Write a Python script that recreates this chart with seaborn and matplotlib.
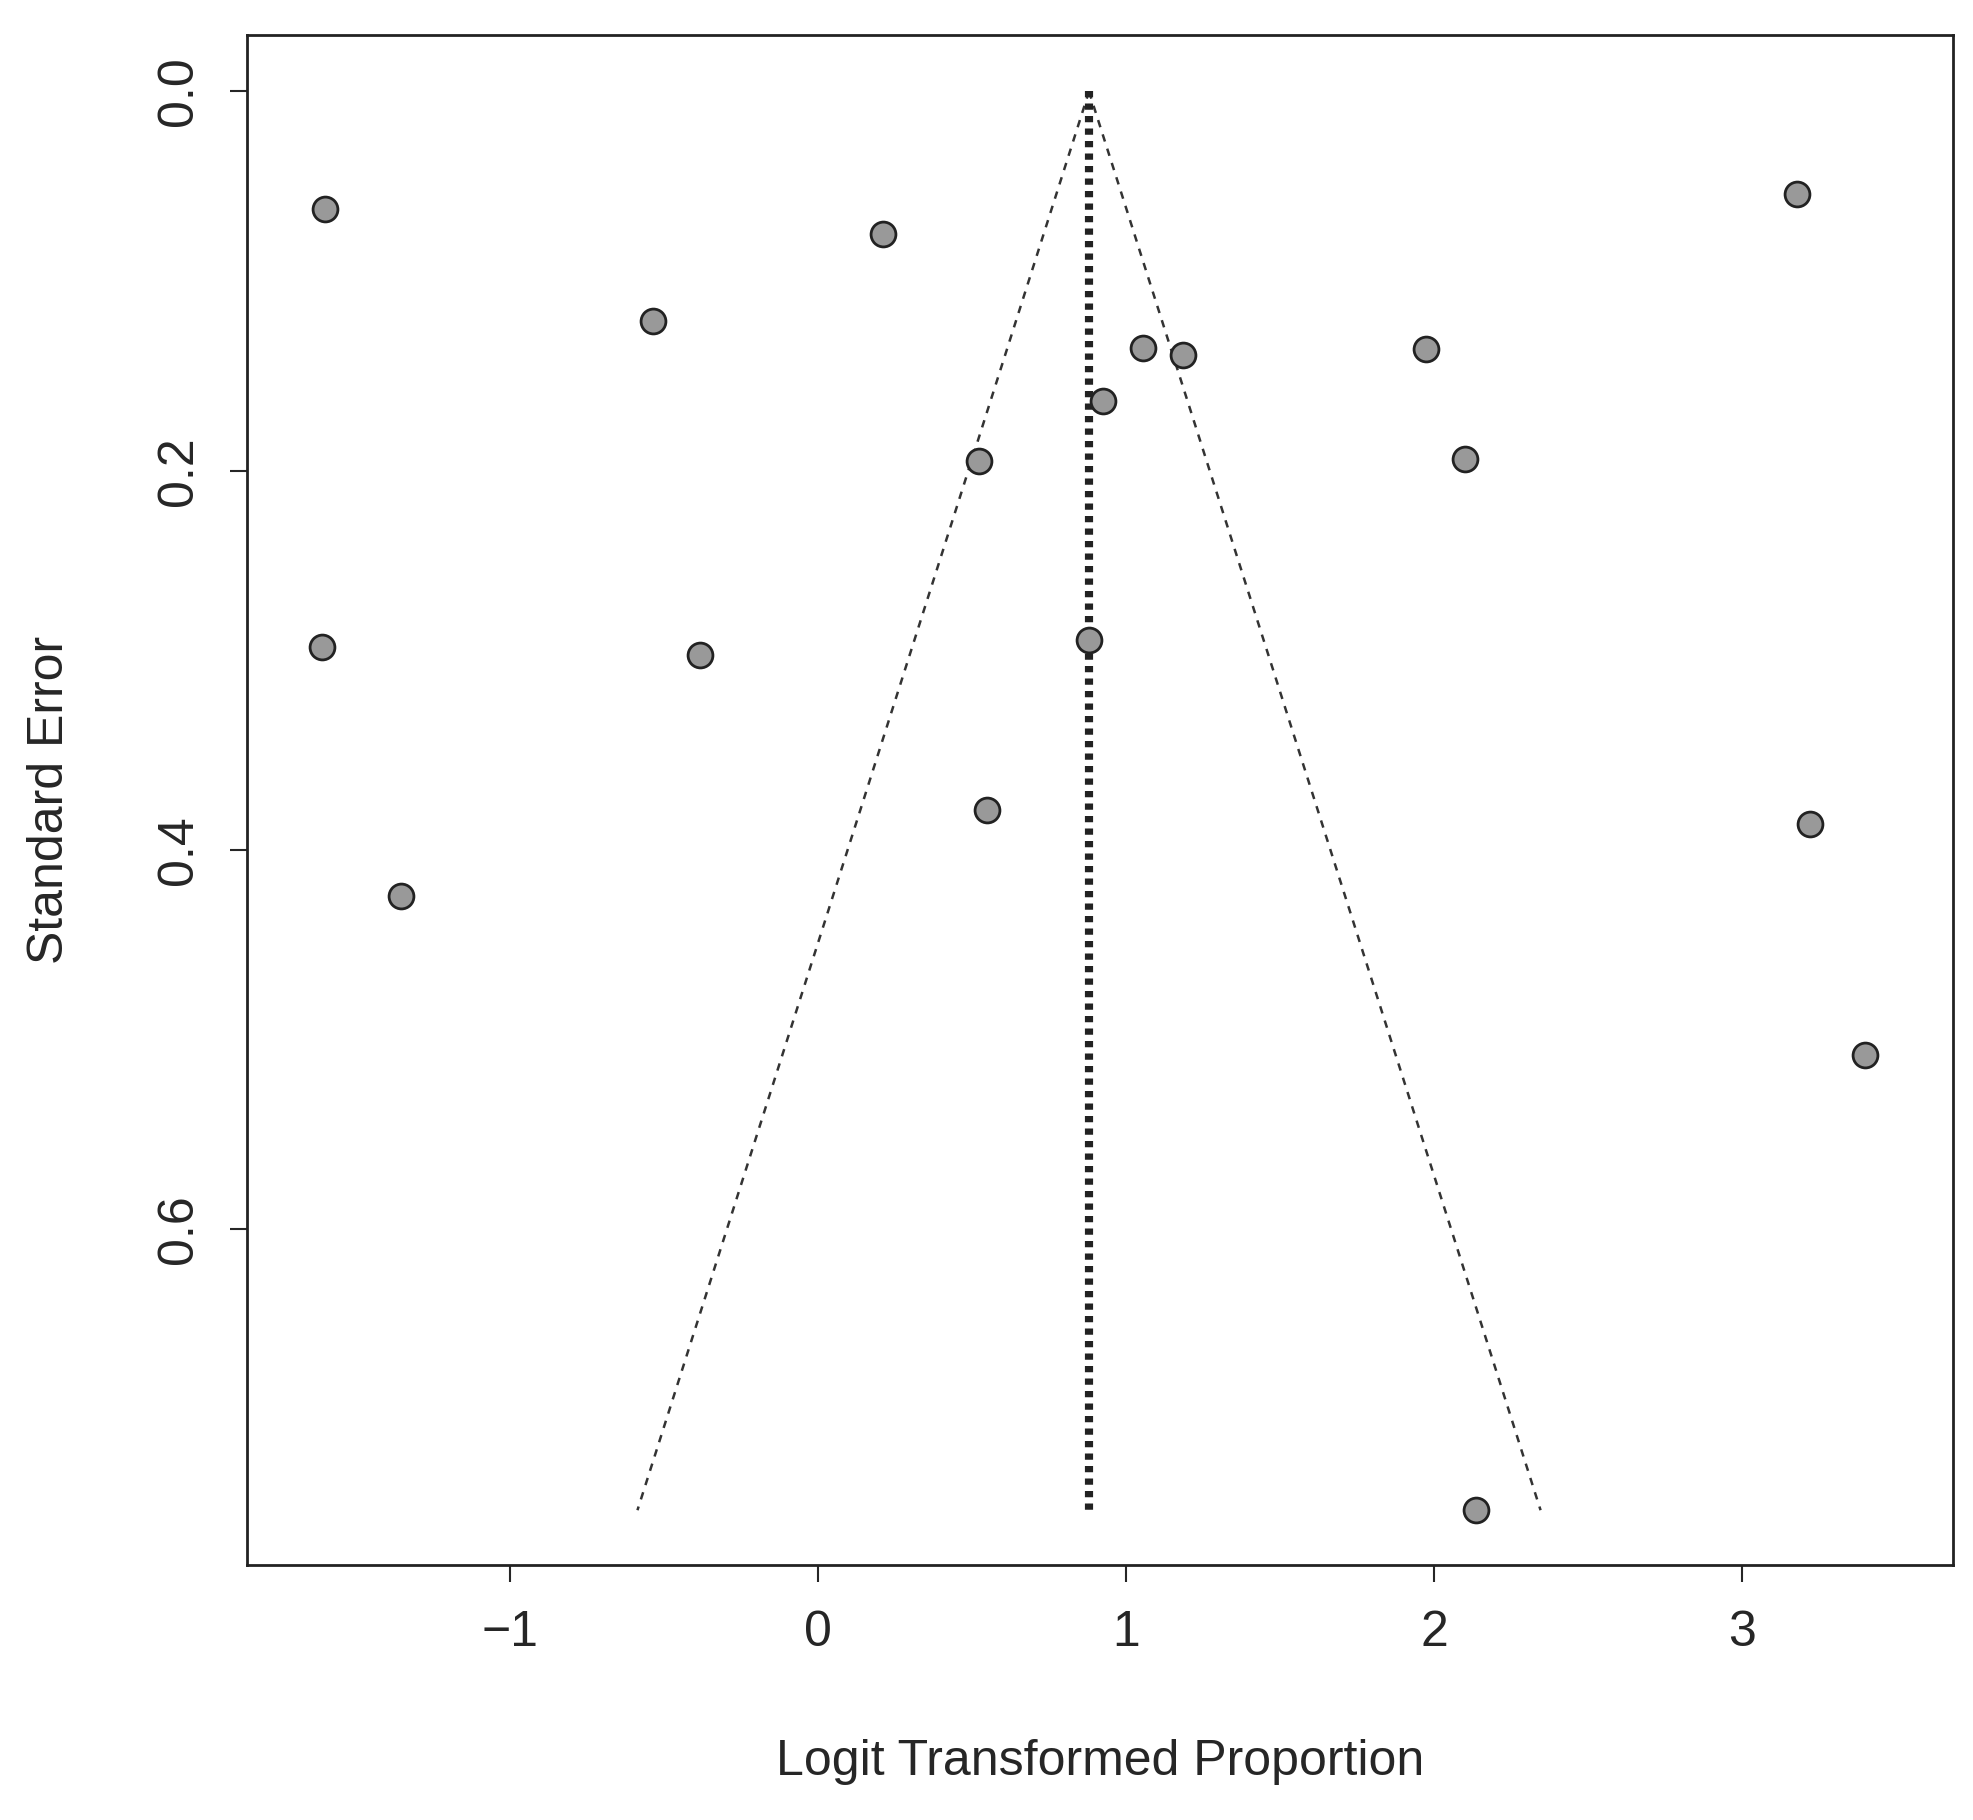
import matplotlib
matplotlib.use("Agg")
import matplotlib.pyplot as plt
import seaborn as sns
import numpy as np
import pandas as pd

logit = [-1.60, 0.21, -0.535, 1.054, 1.185, 1.974, 0.927, 0.523, 2.10, 3.18,
         -1.61, -0.384, 0.879, 0.548, 3.22, -1.353, 3.40, 2.137]
se = [0.062, 0.075, 0.121, 0.135, 0.139, 0.136, 0.163, 0.195, 0.194, 0.054,
      0.293, 0.297, 0.289, 0.379, 0.386, 0.424, 0.508, 0.748]
pooled = 0.88
se_max = 0.748
xticks = [-1, 0, 1, 2, 3]
yticks = [0.0, 0.2, 0.4, 0.6]

df = pd.DataFrame({"x": logit, "se": se})
sns.set_style("white")
plt.rcParams['font.family'] = ['Liberation Sans', 'DejaVu Sans']

fig = plt.figure(figsize=(19.73, 18.2), dpi=100)
ax = fig.add_axes([0.125, 0.140, 0.865, 0.841])

s_line = np.array([0.0, se_max])
ax.plot(pooled - 1.96 * s_line, s_line, ls=(0, (3, 3)), color="#333333", lw=1.8)
ax.plot(pooled + 1.96 * s_line, s_line, ls=(0, (3, 3)), color="#333333", lw=1.8)
ax.plot([pooled - 0.008, pooled - 0.008], [0, se_max], ls=(0, (1.5, 1.5)), color="#222222", lw=3)
ax.plot([pooled + 0.008, pooled + 0.008], [0, se_max], ls=(0, (1.5, 1.5)), color="#222222", lw=3)

sns.scatterplot(data=df, x="x", y="se", ax=ax, s=320, color="#999999",
                edgecolor="#222222", linewidth=2, zorder=3)

ax.set_xlim(-1.855, 3.686)
ax.set_ylim(0.777, -0.03)
ax.set_xticks(xticks)
ax.set_xticklabels([str(t).replace("-", "\u2212") for t in xticks], fontsize=36)
ax.set_yticks(yticks)
ax.set_yticklabels([f"{t:.1f}" for t in yticks], fontsize=36, rotation=90, va="center")
ax.tick_params(axis="both", length=12, width=1.5, direction="out", pad=20,
               bottom=True, left=True)
ax.set_xlabel("Logit Transformed Proportion", fontsize=36, labelpad=60)
ax.set_ylabel("Standard Error", fontsize=36, labelpad=60)
for sp in ax.spines.values():
    sp.set_color("#222222")
    sp.set_linewidth(2)

fig.savefig("out.png", dpi=100, facecolor="white")
